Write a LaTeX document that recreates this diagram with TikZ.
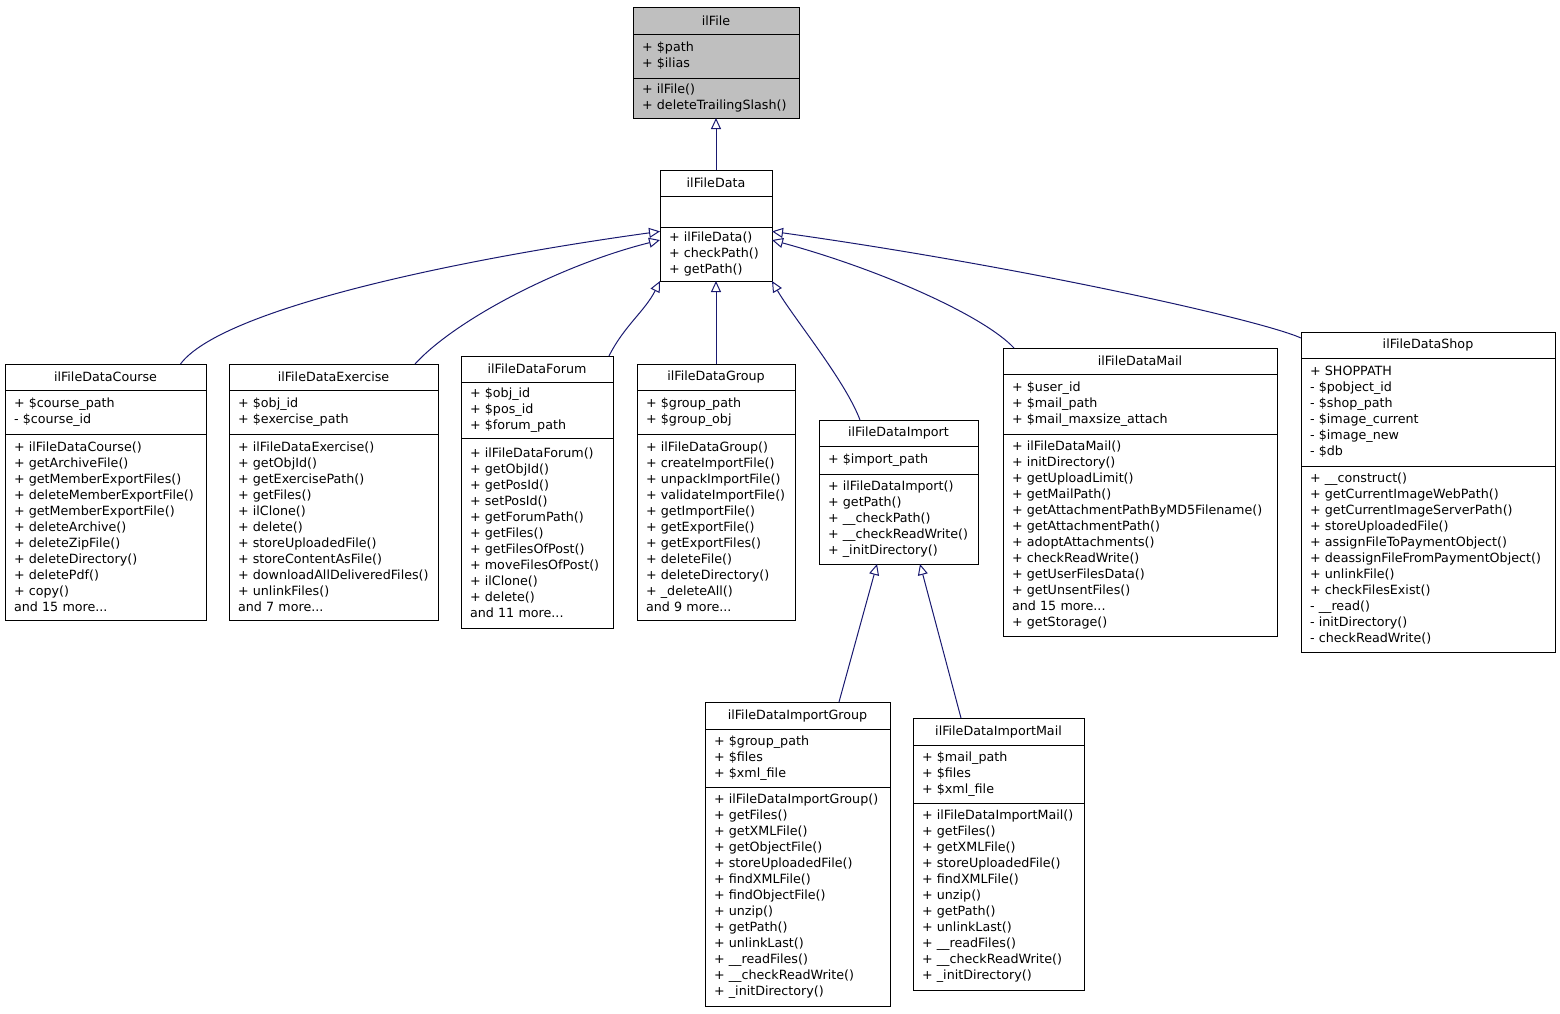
\documentclass[tikz,border=0pt]{standalone}
\usepackage{fontspec}
\setmainfont{DejaVu Sans}
\usetikzlibrary{positioning,arrows.meta}
\definecolor{edgeblue}{RGB}{25,25,112}
\tikzset{
	classname/.style={draw, fill=white, outer sep=0pt, inner sep=2pt, font=\fontsize{12.7}{16}\selectfont},
	members/.style={draw, fill=white, outer sep=0pt, inner xsep=9pt, inner ysep=2pt, align=left, font=\fontsize{12.7}{16}\selectfont},
	inherit/.style={draw=edgeblue, line width=1pt, -{Triangle[open, length=11pt, width=10pt]}},
}
\begin{document}
\begin{tikzpicture}[x=1pt, y=-1pt, line width=1pt, node distance=0pt]
	\useasboundingbox (0,0) rectangle (1560,1013);
	% ilFile
	\node[classname, fill=black!25, minimum width=166pt, minimum height=27pt, anchor=north west] (file) at (633,7) {ilFile};
	\node[members, fill=black!25, text width=148pt, minimum height=44pt, below=of file] (filea) {+ \$path\\+ \$ilias};
	\node[members, fill=black!25, text width=148pt, minimum height=40pt, below=of filea] (filem) {+ ilFile()\\+ deleteTrailingSlash()};
	% ilFileData
	\node[classname, minimum width=112pt, minimum height=26pt, anchor=north west] (data) at (660,170) {ilFileData};
	\node[members, text width=94pt, minimum height=31pt, below=of data] (dataa) {};
	\node[members, text width=94pt, minimum height=54pt, below=of dataa] (datam) {+ ilFileData()\\+ checkPath()\\+ getPath()};
	% ilFileDataCourse
	\node[classname, minimum width=201pt, minimum height=26pt, anchor=north west] (course) at (5,364) {ilFileDataCourse};
	\node[members, text width=183pt, minimum height=44pt, below=of course] (coursea) {+ \$course\_path\\- \$course\_id};
	\node[members, text width=183pt, minimum height=186pt, below=of coursea] (coursem) {+ ilFileDataCourse()\\+ getArchiveFile()\\+ getMemberExportFiles()\\+ deleteMemberExportFile()\\+ getMemberExportFile()\\+ deleteArchive()\\+ deleteZipFile()\\+ deleteDirectory()\\+ deletePdf()\\+ copy()\\and 15 more...};
	% ilFileDataExercise
	\node[classname, minimum width=209pt, minimum height=26pt, anchor=north west] (exercise) at (229,364) {ilFileDataExercise};
	\node[members, text width=191pt, minimum height=44pt, below=of exercise] (exercisea) {+ \$obj\_id\\+ \$exercise\_path};
	\node[members, text width=191pt, minimum height=186pt, below=of exercisea] (exercisem) {+ ilFileDataExercise()\\+ getObjId()\\+ getExercisePath()\\+ getFiles()\\+ ilClone()\\+ delete()\\+ storeUploadedFile()\\+ storeContentAsFile()\\+ downloadAllDeliveredFiles()\\+ unlinkFiles()\\and 7 more...};
	% ilFileDataForum
	\node[classname, minimum width=152pt, minimum height=26pt, anchor=north west] (forum) at (461,356) {ilFileDataForum};
	\node[members, text width=134pt, minimum height=56pt, below=of forum] (foruma) {+ \$obj\_id\\+ \$pos\_id\\+ \$forum\_path};
	\node[members, text width=134pt, minimum height=190pt, below=of foruma] (forumm) {+ ilFileDataForum()\\+ getObjId()\\+ getPosId()\\+ setPosId()\\+ getForumPath()\\+ getFiles()\\+ getFilesOfPost()\\+ moveFilesOfPost()\\+ ilClone()\\+ delete()\\and 11 more...};
	% ilFileDataGroup
	\node[classname, minimum width=158pt, minimum height=26pt, anchor=north west] (group) at (637,364) {ilFileDataGroup};
	\node[members, text width=140pt, minimum height=44pt, below=of group] (groupa) {+ \$group\_path\\+ \$group\_obj};
	\node[members, text width=140pt, minimum height=186pt, below=of groupa] (groupm) {+ ilFileDataGroup()\\+ createImportFile()\\+ unpackImportFile()\\+ validateImportFile()\\+ getImportFile()\\+ getExportFile()\\+ getExportFiles()\\+ deleteFile()\\+ deleteDirectory()\\+ \_deleteAll()\\and 9 more...};
	% ilFileDataImport
	\node[classname, minimum width=159pt, minimum height=26pt, anchor=north west] (import) at (819,420) {ilFileDataImport};
	\node[members, text width=141pt, minimum height=28pt, below=of import] (importa) {+ \$import\_path};
	\node[members, text width=141pt, minimum height=90pt, below=of importa] (importm) {+ ilFileDataImport()\\+ getPath()\\+ \_\_checkPath()\\+ \_\_checkReadWrite()\\+ \_initDirectory()};
	% ilFileDataMail
	\node[classname, minimum width=274pt, minimum height=26pt, anchor=north west] (mail) at (1003,348) {ilFileDataMail};
	\node[members, text width=256pt, minimum height=60pt, below=of mail] (maila) {+ \$user\_id\\+ \$mail\_path\\+ \$mail\_maxsize\_attach};
	\node[members, text width=256pt, minimum height=202pt, below=of maila] (mailm) {+ ilFileDataMail()\\+ initDirectory()\\+ getUploadLimit()\\+ getMailPath()\\+ getAttachmentPathByMD5Filename()\\+ getAttachmentPath()\\+ adoptAttachments()\\+ checkReadWrite()\\+ getUserFilesData()\\+ getUnsentFiles()\\and 15 more...\\+ getStorage()};
	% ilFileDataShop
	\node[classname, minimum width=254pt, minimum height=26pt, anchor=north west] (shop) at (1301,332) {ilFileDataShop};
	\node[members, text width=236pt, minimum height=108pt, below=of shop] (shopa) {+ SHOPPATH\\- \$pobject\_id\\- \$shop\_path\\- \$image\_current\\- \$image\_new\\- \$db};
	\node[members, text width=236pt, minimum height=186pt, below=of shopa] (shopm) {+ \_\_construct()\\+ getCurrentImageWebPath()\\+ getCurrentImageServerPath()\\+ storeUploadedFile()\\+ assignFileToPaymentObject()\\+ deassignFileFromPaymentObject()\\+ unlinkFile()\\+ checkFilesExist()\\- \_\_read()\\- initDirectory()\\- checkReadWrite()};
	% ilFileDataImportGroup
	\node[classname, minimum width=185pt, minimum height=27pt, anchor=north west] (importgroup) at (705,702) {ilFileDataImportGroup};
	\node[members, text width=167pt, minimum height=58pt, below=of importgroup] (importgroupa) {+ \$group\_path\\+ \$files\\+ \$xml\_file};
	\node[members, text width=167pt, minimum height=219pt, below=of importgroupa] (importgroupm) {+ ilFileDataImportGroup()\\+ getFiles()\\+ getXMLFile()\\+ getObjectFile()\\+ storeUploadedFile()\\+ findXMLFile()\\+ findObjectFile()\\+ unzip()\\+ getPath()\\+ unlinkLast()\\+ \_\_readFiles()\\+ \_\_checkReadWrite()\\+ \_initDirectory()};
	% ilFileDataImportMail
	\node[classname, minimum width=171pt, minimum height=27pt, anchor=north west] (importmail) at (913,718) {ilFileDataImportMail};
	\node[members, text width=153pt, minimum height=58pt, below=of importmail] (importmaila) {+ \$mail\_path\\+ \$files\\+ \$xml\_file};
	\node[members, text width=153pt, minimum height=187pt, below=of importmaila] (importmailm) {+ ilFileDataImportMail()\\+ getFiles()\\+ getXMLFile()\\+ storeUploadedFile()\\+ findXMLFile()\\+ unzip()\\+ getPath()\\+ unlinkLast()\\+ \_\_readFiles()\\+ \_\_checkReadWrite()\\+ \_initDirectory()};
	% inheritance
	\draw[inherit] (data.north) -- (filem.south);
	\draw[inherit] ([xshift=75pt]course.north) .. controls +(40,-54) and +(-210,29) .. (datam.158);
	\draw[inherit] ([xshift=81.5pt]exercise.north) .. controls +(40,-44) and +(-100,25) .. (datam.166);
	\draw[inherit] ([xshift=72pt]forum.north) .. controls +(15,-30) and +(-15,30) .. (datam.south west);
	\draw[inherit] (group.north) -- (datam.south);
	\draw[inherit] ([xshift=-38.5pt]import.north) .. controls +(-15,-40) and +(20,35) .. (datam.south east);
	\draw[inherit] ([xshift=-126pt]mail.north) .. controls +(-30,-32) and +(110,30) .. (datam.14);
	\draw[inherit] ([yshift=7pt]shop.west) .. controls +(-40,-18) and +(250,35) .. (datam.22);
	\draw[inherit] ([xshift=41.5pt]importgroup.north) -- ([xshift=-21.5pt]importm.south);
	\draw[inherit] ([xshift=-37.5pt]importmail.north) -- ([xshift=21.5pt]importm.south);
\end{tikzpicture}
\end{document}
